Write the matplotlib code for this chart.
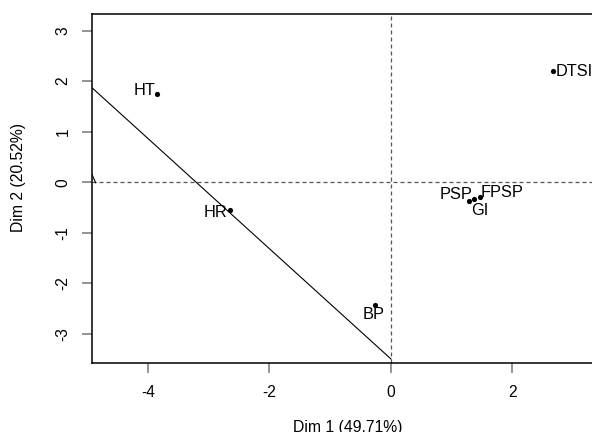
import matplotlib
matplotlib.use("Agg")
import matplotlib.pyplot as plt

plt.rcParams['font.family'] = ['Liberation Sans', 'DejaVu Sans']
plt.rcParams['axes.unicode_minus'] = False

# individuals on the first factorial plane
names = ["HT", "HR", "BP", "DTSI", "PSP", "GI", "FPSP"]
dim1 = [-3.85, -2.65, -0.26, 2.67, 1.28, 1.37, 1.46]
dim2 = [1.74, -0.55, -2.44, 2.20, -0.38, -0.34, -0.30]

# straight line drawn across the plane, plus the little clipped piece at the edge
line_x = [-4.92, 0.0]
line_y = [1.87, -3.50]
stub_x = [-4.92, -4.86]
stub_y = [0.15, -0.01]

xticks = [-4, -2, 0, 2]
yticks = [-3, -2, -1, 0, 1, 2, 3]

# label placement: (dx px, dy px, ha)
label_pos = {
    "HT": (-2, -0.5, "right"),
    "HR": (-3, -7, "right"),
    "BP": (-2, -13.5, "center"),
    "DTSI": (2, -4.5, "left"),
    "PSP": (4, 2, "right"),
    "GI": (6, -16, "center"),
    "FPSP": (1, 0, "left"),
}

fig = plt.figure(figsize=(5.92, 4.32), dpi=100)
ax = fig.add_axes([0.1554, 0.1597, 0.8632, 0.8079])

ax.axhline(0, color="#555555", lw=0.9, ls=(0, (3.2, 2.4)), zorder=1)
ax.axvline(0, color="#555555", lw=0.9, ls=(0, (3.2, 2.4)), zorder=1)
ax.plot(line_x, line_y, color="black", lw=0.8, zorder=2)
ax.plot(stub_x, stub_y, color="black", lw=0.8, zorder=2)

ax.scatter(dim1, dim2, s=14, color="black", zorder=3, linewidths=0)
for n, x, y in zip(names, dim1, dim2):
    dx, dy, ha = label_pos[n]
    ax.annotate(n, (x, y), xytext=(dx, dy), textcoords="offset pixels",
                ha=ha, va="baseline", fontsize=11.8, zorder=4)

ax.set_xticks(xticks)
ax.set_yticks(yticks)
ax.set_xlim(-4.92, 3.49)
ax.set_ylim(-3.58, 3.33)
ax.tick_params(length=7, width=1.1, color="#777777", pad=8.5, labelsize=11.2)
for lab in ax.get_yticklabels():
    lab.set_rotation(90)
    lab.set_va("center")
for sp in ax.spines.values():
    sp.set_linewidth(1.1)

ax.set_xlabel("Dim 1 (49.71%)", fontsize=11.3)
ax.set_ylabel("Dim 2 (20.52%)", fontsize=11.3)
ax.xaxis.set_label_coords((347.6 - 92) / 511, -(427 - 363) / 349)
ax.yaxis.set_label_coords(-(92 - 19) / 511, (363 - 177) / 349)
ax.xaxis.label.set_va("center")
ax.yaxis.label.set_va("center")

fig.savefig("out.png", dpi=100)
